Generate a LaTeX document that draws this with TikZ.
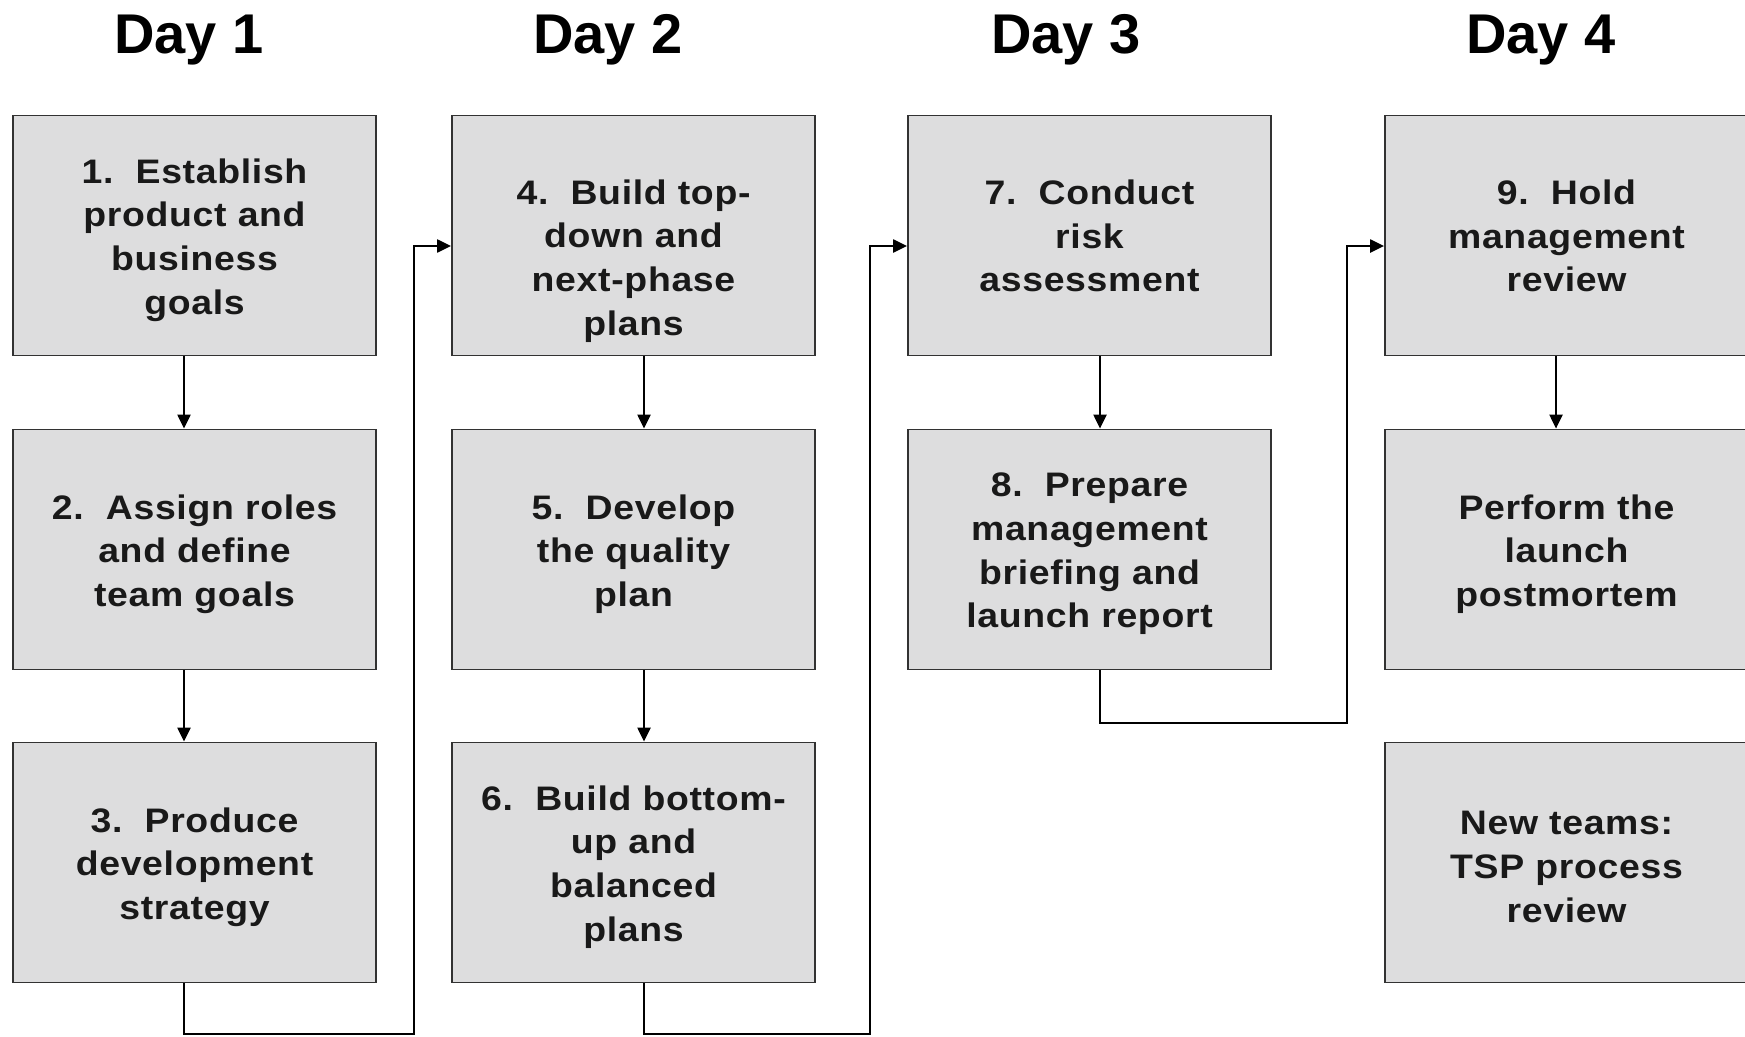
\documentclass[tikz,border=0pt]{standalone}
\usepackage{fontspec}
\setmainfont{Liberation Sans}
\newfontfamily\boxfont[FakeStretch=1.1,LetterSpace=2.0]{Liberation Sans}
\usetikzlibrary{arrows.meta}
\definecolor{boxfill}{RGB}{221,221,222}
\definecolor{boxline}{RGB}{50,50,50}
\definecolor{txt}{RGB}{25,25,25}
\begin{document}
\begin{tikzpicture}[x=1pt,y=-1pt,
  stepbox/.style={draw=boxline,line width=1.8pt,fill=boxfill,minimum width=363pt,minimum height=240pt,inner sep=0pt},
  steptext/.style={inner sep=0pt,align=center,text=txt,font=\boxfont\bfseries\fontsize{34}{43.7}\selectfont},
  dayhead/.style={anchor=base,font=\bfseries\fontsize{56}{60}\selectfont,text=black},
  conn/.style={draw=black,line width=2.2pt},
  arr/.style={conn,-{Triangle[length=14pt,width=13pt]}}]
\useasboundingbox (0,0) rectangle (1745,1036);
% headers
\node[dayhead] (d1) at (189,53) {Day 1};
\node[dayhead] (d2) at (608,53) {Day 2};
\node[dayhead] (d3) at (1066,53) {Day 3};
\node[dayhead] (d4) at (1541,53) {Day 4};
% boxes
\node[stepbox] (b1) at (194.5,235.5) {};
\node[stepbox] (b2) at (194.5,549.5) {};
\node[stepbox] (b3) at (194.5,862.5) {};
\node[stepbox] (b4) at (633.5,235.5) {};
\node[stepbox] (b5) at (633.5,549.5) {};
\node[stepbox] (b6) at (633.5,862.5) {};
\node[stepbox] (b7) at (1089.5,235.5) {};
\node[stepbox] (b8) at (1089.5,549.5) {};
\node[stepbox] (b9) at (1566.5,235.5) {};
\node[stepbox] (b10) at (1566.5,549.5) {};
\node[stepbox] (b11) at (1566.5,862.5) {};
% box texts
\node[steptext] (t1) at ([yshift=-4.5pt]b1.center) {1.~~Establish\\product and\\business\\goals};
\node[steptext] (t2) at ([yshift=-4.5pt]b2.center) {2.~~Assign roles\\and define\\team goals};
\node[steptext] (t3) at ([yshift=-4.5pt]b3.center) {3.~~Produce\\development\\strategy};
\node[steptext] (t4) at ([yshift=-25.5pt]b4.center) {4.~~Build top-\\down and\\next-phase\\plans};
\node[steptext] (t5) at ([yshift=-4.5pt]b5.center) {5.~~Develop\\the quality\\plan};
\node[steptext] (t6) at ([yshift=-4.5pt]b6.center) {6.~~Build bottom-\\up and\\balanced\\plans};
\node[steptext] (t7) at ([yshift=-0.5pt]b7.center) {7.~~Conduct\\risk\\assessment};
\node[steptext] (t8) at ([yshift=-4.5pt]b8.center) {8.~~Prepare\\management\\briefing and\\launch report};
\node[steptext] (t9) at ([yshift=-0.5pt]b9.center) {9.~~Hold\\management\\review};
\node[steptext] (t10) at ([yshift=-4.5pt]b10.center) {Perform the\\launch\\postmortem};
\node[steptext] (t11) at ([yshift=-4.5pt]b11.center) {New teams:\\TSP process\\review};
% vertical arrows
\draw[arr] ([xshift=-10.5pt]b1.south) -- ([xshift=-10.5pt]b2.north);
\draw[arr] ([xshift=-10.5pt]b2.south) -- ([xshift=-10.5pt]b3.north);
\draw[arr] ([xshift=10.5pt]b4.south) -- ([xshift=10.5pt]b5.north);
\draw[arr] ([xshift=10.5pt]b5.south) -- ([xshift=10.5pt]b6.north);
\draw[arr] ([xshift=10.5pt]b7.south) -- ([xshift=10.5pt]b8.north);
\draw[arr] ([xshift=-10.5pt]b9.south) -- ([xshift=-10.5pt]b10.north);
% day-to-day connectors
\draw[arr] ([xshift=-10.5pt]b3.south) |- (414,1034) |- ([yshift=-10.5pt]b4.west);
\draw[arr] ([xshift=10.5pt]b6.south) |- (870,1034) |- ([yshift=-10.5pt]b7.west);
\draw[arr] ([xshift=10.5pt]b8.south) |- (1347,723) |- ([yshift=-10.5pt]b9.west);
\end{tikzpicture}
\end{document}
